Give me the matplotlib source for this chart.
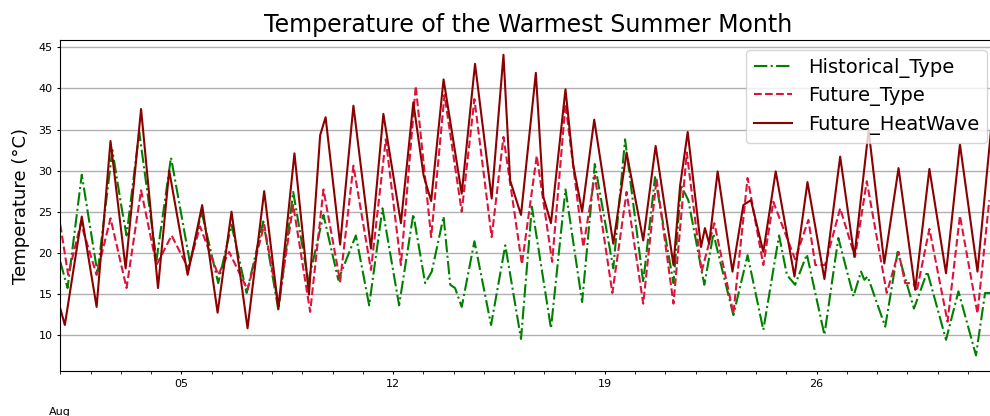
"""
Hourly temperature of the warmest summer month: historical, future and heatwave scenarios.
"""
import numpy as np
import pandas as pd
import matplotlib
matplotlib.use("Agg")
from matplotlib import pyplot as plt
import matplotlib.dates as mdates

# Start of the month (Aug 1 00:00), times below are fractional days of the month
MONTH_START = pd.Timestamp("2019-08-01")

# Historical_Type: daily highs and lows
HIST_DAY = [1.00, 1.24, 1.71, 2.23, 2.72, 3.03, 3.19, 3.61, 4.18, 4.66,
            5.29, 5.67, 6.22, 6.66, 7.16, 7.71, 8.21, 8.70,
            9.20, 9.70, 10.19, 10.77, 11.21, 11.65, 12.20, 12.67,
            13.06, 13.28, 13.67, 13.89, 14.05, 14.27, 14.69, 15.24, 15.71, 16.23, 16.59,
            17.22, 17.70, 18.25, 18.67, 19.28, 19.67, 20.27, 20.66,
            21.27, 21.52, 21.76, 22.29, 22.59, 23.25, 23.72, 24.24, 24.76,
            25.02, 25.29, 25.68, 26.26, 26.72, 27.22, 27.47, 27.58, 27.69, 28.27, 28.68,
            29.22, 29.66, 30.28, 30.69, 31.27, 31.57, 31.96]
HIST_TEMP = [18.9, 15.7, 29.5, 17.5, 32.5, 25.4, 22.1, 34.7, 19.1, 31.6,
             18.7, 25.0, 16.3, 23.4, 15.1, 23.8, 13.0, 27.4,
             16.5, 24.6, 16.7, 22.1, 13.6, 25.4, 13.6, 24.7,
             16.3, 17.7, 24.4, 16.1, 15.7, 13.4, 21.4, 11.2, 20.9, 9.5, 25.6,
             10.8, 27.7, 14.0, 30.8, 18.1, 33.8, 16.4, 29.2,
             16.3, 28.2, 26.4, 16.1, 22.3, 12.4, 19.7, 10.6, 22.1,
             17.3, 16.1, 19.8, 10.0, 21.8, 14.7, 17.7, 16.7, 17.1, 11.0, 20.1,
             13.2, 17.7, 9.4, 15.3, 7.5, 15.1, 15.1]

# Future_Type
FUT_DAY = [1.00, 1.26, 1.68, 2.20, 2.66, 3.19, 3.67, 4.18, 4.68,
           5.23, 5.62, 6.22, 6.58, 7.19, 7.74, 8.21, 8.70,
           9.26, 9.70, 10.25, 10.69, 11.27, 11.76, 12.26, 12.75,
           13.26, 13.70, 14.27, 14.69, 15.26, 15.65, 16.26, 16.75,
           17.26, 17.70, 18.29, 18.67, 19.25, 19.72, 20.27, 20.71,
           21.27, 21.71, 22.20, 22.62, 23.25, 23.72, 24.24, 24.57,
           25.29, 25.73, 25.96, 26.28, 26.78, 27.27, 27.66, 28.32, 28.71,
           28.93, 29.20, 29.31, 29.73, 30.33, 30.74, 31.32, 31.71]
FUT_TEMP = [23.4, 17.3, 23.6, 17.3, 24.2, 15.7, 27.6, 18.5, 22.1,
            18.1, 23.2, 17.3, 20.1, 15.5, 23.4, 13.6, 25.8,
            12.8, 27.7, 16.5, 30.6, 17.9, 33.8, 18.5, 40.3,
            21.9, 39.2, 25.0, 38.7, 21.9, 34.1, 18.6, 31.8,
            18.9, 38.1, 20.7, 29.4, 15.1, 27.4, 13.8, 29.0,
            13.8, 32.2, 17.7, 23.6, 12.6, 29.1, 18.5, 26.2,
            19.2, 24.0, 18.5, 18.5, 25.4, 19.5, 28.7, 15.1, 20.1,
            16.3, 16.3, 15.3, 22.9, 11.6, 24.5, 12.6, 26.4]

# Future_HeatWave
HW_DAY = [1.00, 1.15, 1.71, 2.20, 2.66, 3.16, 3.67, 4.23, 4.60,
          5.21, 5.69, 6.20, 6.66, 7.19, 7.74, 8.21, 8.74,
          9.22, 9.59, 9.77, 10.25, 10.69, 11.27, 11.68, 12.26, 12.67,
          13.01, 13.26, 13.67, 14.27, 14.71, 15.26, 15.65, 15.87, 16.23, 16.72,
          16.97, 17.22, 17.70, 17.96, 18.25, 18.65, 19.28, 19.72, 20.27, 20.68,
          21.27, 21.49, 21.74, 22.18, 22.31, 22.45, 22.73, 23.22, 23.58, 23.83, 24.24, 24.65,
          25.27, 25.70, 26.26, 26.78, 27.25, 27.72, 28.24, 28.71,
          29.26, 29.73, 30.28, 30.74, 31.32, 31.80]
HW_TEMP = [13.2, 11.2, 24.4, 13.4, 33.6, 18.1, 37.5, 15.7, 30.0,
           17.3, 25.8, 12.7, 25.0, 10.8, 27.5, 13.2, 32.1,
           14.9, 34.3, 36.5, 21.0, 37.9, 20.5, 36.9, 23.6, 38.3,
           29.4, 26.3, 41.1, 27.2, 43.0, 26.6, 44.1, 28.8, 24.6, 41.9,
           26.8, 23.6, 39.9, 30.6, 25.0, 36.2, 21.1, 32.2, 21.5, 33.0,
           18.5, 28.2, 34.7, 20.7, 23.0, 21.1, 29.9, 17.7, 25.8, 26.4, 20.1, 29.9,
           17.1, 28.6, 16.8, 31.7, 19.5, 34.9, 18.7, 30.3,
           15.5, 30.2, 17.5, 33.2, 17.7, 36.2]

SERIES = [
    ("Historical_Type", HIST_DAY, HIST_TEMP, "green", "-."),
    ("Future_Type", FUT_DAY, FUT_TEMP, "crimson", "--"),
    ("Future_HeatWave", HW_DAY, HW_TEMP, "darkred", "-"),
]


def to_times(days):
    # Fractional day of month -> timestamp
    return MONTH_START + pd.to_timedelta(np.array(days) - 1.0, unit="D")


fig = plt.figure(figsize=(9.9, 4.16), dpi=100)
ax = fig.add_axes([60.3 / 990, 45 / 416, 936.5 / 990, 331 / 416])

for label, days, temps, color, style in SERIES:
    ax.plot(to_times(days), temps, color=color, linestyle=style, linewidth=1.5, label=label,
            solid_joinstyle="round", dash_joinstyle="round")

# Axis limits
ax.set_xlim(MONTH_START, MONTH_START + pd.Timedelta(hours=743))
ax.set_ylim(5.6, 45.9)

# Weekly labels on Mondays, a tick for every day
ax.xaxis.set_major_locator(mdates.WeekdayLocator(byweekday=mdates.MO))
ax.xaxis.set_major_formatter(mdates.DateFormatter("%d"))
ax.xaxis.set_minor_locator(mdates.DayLocator())
ax.tick_params(axis="both", which="both", labelsize=8, length=2.5, pad=3)
ax.set_yticks([10, 15, 20, 25, 30, 35, 40, 45])

# Month name under the first day
ax.annotate("Aug", xy=(MONTH_START, 0), xycoords=("data", "axes fraction"),
            xytext=(0, -26), textcoords="offset points", ha="center", va="top", fontsize=8)

ax.grid(axis="y", color="#b0b0b0", linewidth=1)
ax.set_axisbelow(True)

ax.set_ylabel("Temperature (°C)", fontsize=13, labelpad=6)
ax.set_title("Temperature of the Warmest Summer Month", fontsize=17)

ax.legend(loc="upper right", fontsize=14, labelspacing=0.45, handlelength=2.0)

plt.savefig("out.png", dpi=100)
